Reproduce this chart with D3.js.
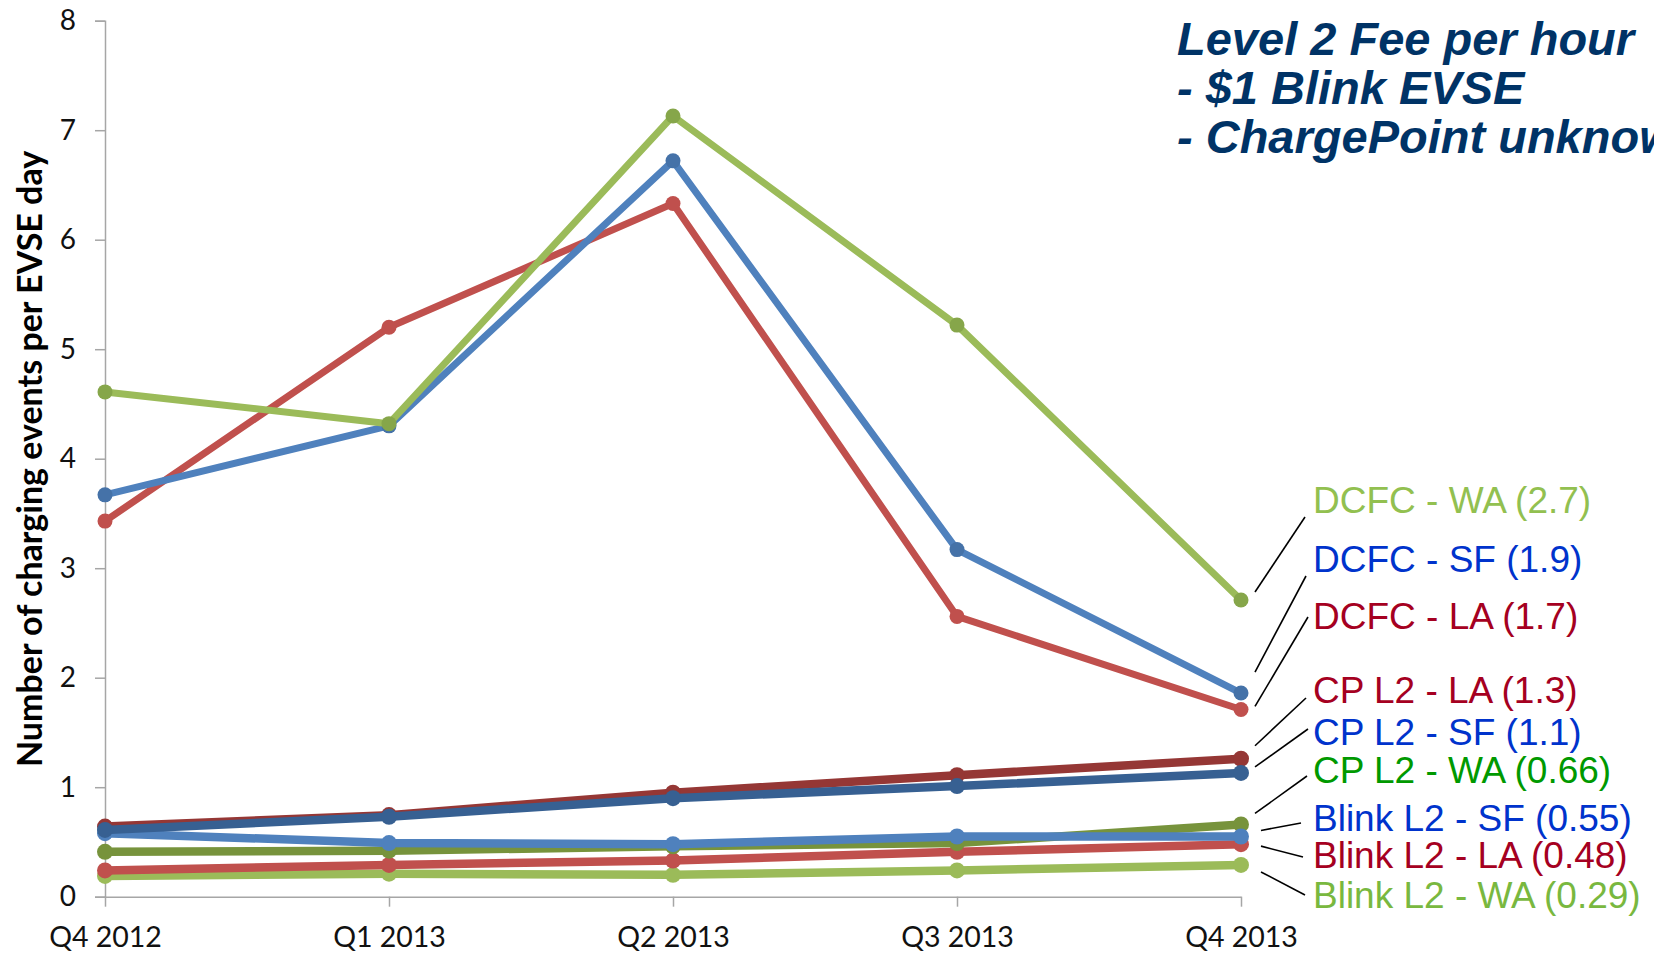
<!DOCTYPE html>
<html>
<head>
<meta charset="utf-8">
<script src="https://cdn.jsdelivr.net/npm/d3@7"></script>
<style>
  html, body { margin: 0; padding: 0; background: #fff; overflow: hidden; }
  svg { display: block; }
</style>
</head>
<body>
<svg id="chart" width="1654" height="953"></svg>
<script>
// ---------- DATA ----------
const categories = ["Q4 2012", "Q1 2013", "Q2 2013", "Q3 2013", "Q4 2013"];
const yTicks = [0, 1, 2, 3, 4, 5, 6, 7, 8];

const dcfcWA  = [4.61, 4.32, 7.13, 5.22, 2.71];
const dcfcSF  = [3.67, 4.30, 6.72, 3.17, 1.86];
const dcfcLA  = [3.43, 5.20, 6.33, 2.56, 1.71];
const cpLA    = [0.64, 0.745, 0.95, 1.11, 1.26];
const cpSF    = [0.61, 0.73, 0.90, 1.01, 1.13];
const cpWA    = [0.41, 0.42, 0.46, 0.49, 0.66];
const blinkSF = [0.58, 0.49, 0.48, 0.55, 0.55];
const blinkLA = [0.24, 0.29, 0.33, 0.41, 0.48];
const blinkWA = [0.19, 0.21, 0.20, 0.24, 0.29];

const seriesNames = ["DCFC - WA (2.7)", "DCFC - SF (1.9)", "DCFC - LA (1.7)",
  "CP L2 - LA (1.3)", "CP L2 - SF (1.1)", "CP L2 - WA (0.66)",
  "Blink L2 - SF (0.55)", "Blink L2 - LA (0.48)", "Blink L2 - WA (0.29)"];

const titleLines = ["Level 2 Fee per hour", "- $1 Blink EVSE", "- ChargePoint unknown"];
const yAxisTitle = "Number of charging events per EVSE day";

// ---------- STYLE / LAYOUT ----------
const series = [
  { name: seriesNames[2], values: dcfcLA,  line: "#c0504d", marker: "#c0504d", w: 7,   r: 7.5, label: "#a50021" },
  { name: seriesNames[1], values: dcfcSF,  line: "#4f81bd", marker: "#4572a8", w: 7,   r: 7.5, label: "#0033cc" },
  { name: seriesNames[0], values: dcfcWA,  line: "#9bbb59", marker: "#86a64a", w: 7,   r: 7.5, label: "#92c050" },
  { name: seriesNames[8], values: blinkWA, line: "#9bbb59", marker: "#9bbb59", w: 8.5, r: 8,   label: "#79b83f" },
  { name: seriesNames[7], values: blinkLA, line: "#c0504d", marker: "#c0504d", w: 8.5, r: 8,   label: "#a50021" },
  { name: seriesNames[5], values: cpWA,    line: "#77933c", marker: "#77933c", w: 8.5, r: 8,   label: "#009900" },
  { name: seriesNames[6], values: blinkSF, line: "#4f81bd", marker: "#4f81bd", w: 8.5, r: 8,   label: "#0033cc" },
  { name: seriesNames[3], values: cpLA,    line: "#953735", marker: "#953735", w: 8.5, r: 8,   label: "#a50021" },
  { name: seriesNames[4], values: cpSF,    line: "#376092", marker: "#376092", w: 8.5, r: 8,   label: "#0033cc" }
];

// label layout (in label order of seriesNames): baseline y, leader line offsets
const labelLayout = [
  { base: 513, dy: -8,  end: [1305, 517] },
  { base: 572, dy: -21, end: [1306, 576] },
  { base: 629, dy: -3,  end: [1308, 617] },
  { base: 703, dy: -13, end: [1306, 698] },
  { base: 745, dy: -6,  end: [1308, 729] },
  { base: 783, dy: -11, end: [1307, 776] },
  { base: 831, dy: -6,  end: [1301, 823] },
  { base: 868, dy: 2,   end: [1303, 857] },
  { base: 908, dy: 7,   end: [1305, 895] }
];
const labelX = 1313;

const svg = d3.select("#chart");
const x = d3.scalePoint().domain(categories).range([105, 1241]);
const y = d3.scaleLinear().domain([0, 8]).range([896.7, 20.7]);

const axisColor = "#a6a6a6";
const tickFont = "Lato, 'Open Sans', sans-serif";

// Y axis
const yAxis = svg.append("g").attr("transform", "translate(105,0)")
  .call(d3.axisLeft(y).tickValues(yTicks).tickSize(10).tickPadding(19).tickFormat(d3.format("d")));
yAxis.select(".domain").attr("stroke", axisColor).attr("stroke-width", 1.5);
yAxis.selectAll(".tick line").attr("stroke", axisColor).attr("stroke-width", 1.5);
yAxis.selectAll(".tick text").attr("font-family", tickFont).attr("font-size", 28).attr("fill", "#111");

// X axis
const xAxis = svg.append("g").attr("transform", "translate(0,896.7)")
  .call(d3.axisBottom(x).tickSize(10).tickPadding(20).tickSizeOuter(0));
xAxis.select(".domain").attr("stroke", axisColor).attr("stroke-width", 1.5);
xAxis.selectAll(".tick line").attr("stroke", axisColor).attr("stroke-width", 1.5);
xAxis.selectAll(".tick text").attr("font-family", tickFont).attr("font-size", 28.5).attr("fill", "#111");

// Y axis title
svg.append("text")
  .attr("transform", "translate(42,459) rotate(-90)")
  .attr("text-anchor", "middle")
  .attr("font-family", tickFont).attr("font-weight", "bold").attr("font-size", 34)
  .attr("fill", "#000")
  .text(yAxisTitle);

// Lines + markers
const lineGen = d3.line().x((d, i) => x(categories[i])).y(d => y(d));
series.forEach(s => {
  const g = svg.append("g");
  g.append("path").datum(s.values)
    .attr("d", lineGen).attr("fill", "none")
    .attr("stroke", s.line).attr("stroke-width", s.w)
    .attr("stroke-linejoin", "round").attr("stroke-linecap", "round");
  g.selectAll("circle").data(s.values).join("circle")
    .attr("cx", (d, i) => x(categories[i])).attr("cy", d => y(d))
    .attr("r", s.r).attr("fill", s.marker);
});

// Labels with leader lines
const lastCat = categories[categories.length - 1];
seriesNames.forEach((name, i) => {
  const s = series.find(t => t.name === name);
  const L = labelLayout[i];
  const v = s.values[s.values.length - 1];
  const sx = x(lastCat) + (i >= 6 ? 20 : 14);
  svg.append("line")
    .attr("x1", sx).attr("y1", y(v) + L.dy)
    .attr("x2", L.end[0]).attr("y2", L.end[1])
    .attr("stroke", "#000").attr("stroke-width", 1.6);
  svg.append("text")
    .attr("x", labelX).attr("y", L.base)
    .attr("font-family", "'Liberation Sans', Arial, sans-serif")
    .attr("font-size", 37)
    .attr("fill", s.label)
    .text(name);
});

// Title block (the reference crops its last line at the right edge)
const title = svg.append("text")
  .attr("font-family", "'Liberation Sans', Arial, sans-serif")
  .attr("font-weight", "bold").attr("font-style", "italic")
  .attr("font-size", 47).attr("fill", "#003366");
titleLines.forEach((t, i) => {
  title.append("tspan").attr("x", 1177).attr("y", 55 + i * 49.2).text(t);
});
</script>
</body>
</html>
